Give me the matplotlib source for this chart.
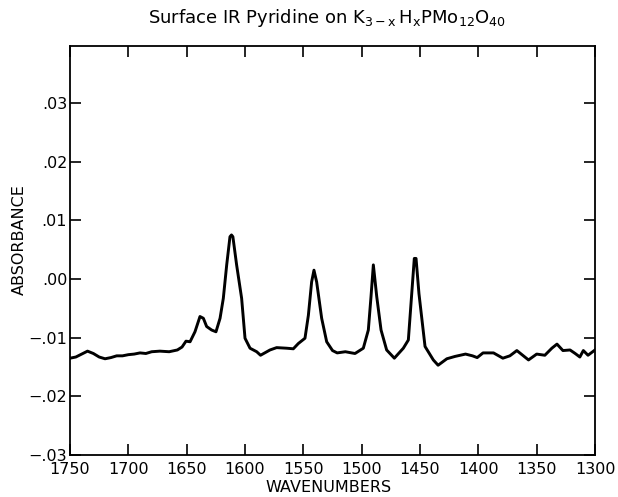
import matplotlib
matplotlib.use("Agg")
import matplotlib.pyplot as plt

wavenumber = [1750, 1745, 1740, 1735, 1730, 1725, 1720, 1715, 1710, 1705, 1700, 1695, 1690,
              1685, 1680, 1673, 1665, 1658, 1654, 1650.6, 1647.1, 1642.9, 1638.6, 1635.7, 1632.9,
              1628.6, 1624.9, 1621.4, 1618.6, 1615.7, 1612.9, 1611.6, 1610.4, 1607.2, 1602.9,
              1600, 1595.7, 1590, 1586.7, 1578.6, 1572.9, 1564.3, 1558.6, 1554.3, 1548.6,
              1545.7, 1542.9, 1540.9, 1538.6, 1534.3, 1530, 1525, 1521, 1514, 1508.6, 1505.7,
              1498.6, 1494.3, 1492, 1490, 1487.1, 1483.4, 1478.6, 1472, 1464.3, 1460, 1457.1,
              1454.9, 1453.4, 1450.9, 1445.7, 1438.6, 1434.5, 1427, 1420, 1411, 1405, 1401,
              1396, 1387, 1379, 1373, 1367, 1362, 1357, 1350, 1343, 1337, 1332.6, 1327.5,
              1321.4, 1317, 1313, 1310, 1306, 1300]
absorbance = [-0.0135, -0.0133, -0.0128, -0.0123, -0.0127, -0.0133, -0.0136, -0.0134, -0.0131, -0.0131,
              -0.0129, -0.0128, -0.0126, -0.0127, -0.0124, -0.0123, -0.0124, -0.0121, -0.0116, -0.0106,
              -0.0107, -0.0090, -0.0064, -0.0067, -0.0081, -0.0087, -0.0090, -0.0067, -0.0033, 0.0024,
              0.0072, 0.0075, 0.0072, 0.0024, -0.0033, -0.0101, -0.0118, -0.0124, -0.0130, -0.0121,
              -0.0117, -0.0118, -0.0119, -0.0110, -0.0101, -0.0062, -0.0005, 0.0015, -0.0005, -0.0067,
              -0.0107, -0.0122, -0.0126, -0.0124, -0.0126, -0.0127, -0.0118, -0.0087, -0.0030, 0.0024,
              -0.0030, -0.0087, -0.0121, -0.0135, -0.0118, -0.0104, -0.0025, 0.0035, 0.0035, -0.0025,
              -0.0115, -0.0138, -0.0147, -0.0136, -0.0132, -0.0128, -0.0131, -0.0134, -0.0126, -0.0126,
              -0.0135, -0.0131, -0.0122, -0.0130, -0.0138, -0.0128, -0.0130, -0.0118, -0.0111, -0.0122,
              -0.0121, -0.0127, -0.0133, -0.0122, -0.0130, -0.0121]

xticks = [1750, 1700, 1650, 1600, 1550, 1500, 1450, 1400, 1350, 1300]
yticks = [-0.03, -0.02, -0.01, 0.00, 0.01, 0.02, 0.03]
ytick_labels = ["\u2212.03", "\u2212.02", "\u2212.01", ".00", ".01", ".02", ".03"]

plt.rcParams['font.family'] = ['DejaVu Sans']
fig = plt.figure(figsize=(6.18, 4.97), dpi=100)
ax = fig.add_axes([0.1133, 0.0845, 0.8495, 0.8229])
ax.plot(wavenumber, absorbance, color='black', lw=2.1, solid_joinstyle='round')
ax.set_xlim(1750, 1300)
ax.set_ylim(-0.03, 0.0397)
ax.set_xticks(xticks)
ax.set_xticklabels([str(t) for t in xticks])
ax.set_yticks(yticks)
ax.set_yticklabels(ytick_labels)
ax.tick_params(direction='in', top=True, right=True, length=8, width=1.2,
               labelsize=11.5, pad=2)
ax.tick_params(axis='x', pad=5)
for s in ax.spines.values():
    s.set_linewidth(1.3)
ax.set_xlabel("WAVENUMBERS", fontsize=11.5)
ax.xaxis.set_label_coords(0.493, -0.062)
ax.set_ylabel("ABSORBANCE", fontsize=11.5)
ax.yaxis.set_label_coords(-0.083, 0.526)
fig.text(0.53, 0.963,
         r"Surface IR Pyridine on $\mathregular{K_{3-x}\,H_{x}PMo_{12}O_{40}}$",
         ha='center', va='center', fontsize=13)
fig.savefig("out.png", dpi=100)
